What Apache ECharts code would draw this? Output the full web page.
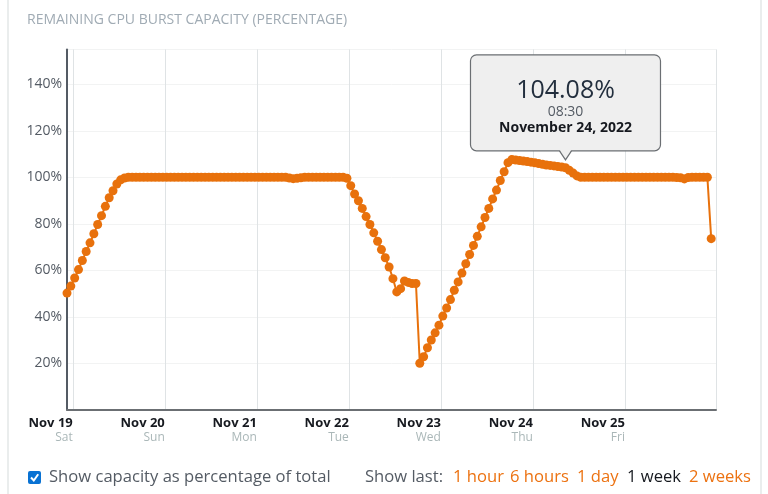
<!DOCTYPE html>
<html><head><meta charset="utf-8">
<script src="https://cdn.jsdelivr.net/npm/echarts@6/dist/echarts.min.js"></script>
<style>html,body{margin:0;padding:0;background:#fff}#c{width:768px;height:494px}</style>
</head><body><div id="c"></div>
<script>
// ---- data ----
const chartTitle = 'REMAINING CPU BURST CAPACITY (PERCENTAGE)';
const firstSample = [2022, 10, 18, 22, 30]; // Nov 18 2022 22:30, hourly samples follow
const axisEnd = [2022, 10, 25, 23, 45];
const capacityValues = [
  50.2, 53.2,
  56.7, 60.3, 64.2, 68.1, 71.8, 75.7, 79.7, 83.5, 87.5, 91.2, 94.2, 97.1, 98.9, 99.7, 100, 100, 100, 100, 100, 100, 100, 100, 100, 100,
  100, 100, 100, 100, 100, 100, 100, 100, 100, 100, 100, 100, 100, 100, 100, 100, 100, 100, 100, 100, 100, 100, 100, 100,
  100, 100, 100, 100, 100, 100, 100, 100, 99.7, 99.4, 99.6, 99.8, 100, 100, 100, 100, 100, 100, 100, 100, 100, 100, 100, 99.6,
  96.4, 92.8, 89.9, 86.6, 83.1, 79.7, 76.1, 72.5, 68.9, 65.4, 61.4, 56.4, 50.7, 52.1, 55.4, 54.8, 54.3, 54.3, 20.0, 22.8, 26.7, 30.0, 33.1, 36.4,
  40.3, 43.8, 47.4, 51.4, 55.0, 58.8, 62.8, 66.8, 70.7, 74.6, 78.7, 82.7, 86.6, 90.7, 94.5, 98.6, 102.4, 106.3, 107.6, 107.4, 107.2, 107.0, 106.8, 106.5,
  106.2, 105.9, 105.6, 105.3, 105.1, 104.9, 104.6, 104.4, 104.08, 103.0, 101.8, 100.6, 100, 100, 100, 100, 100, 100, 100, 100, 100, 100, 100, 100,
  100, 100, 100, 100, 100, 100, 100, 100, 100, 100, 100, 100, 100, 99.9, 99.8, 99.3, 99.9, 100, 100, 100, 100, 100, 73.6
];
const tickDates = ['Nov 19', 'Nov 20', 'Nov 21', 'Nov 22', 'Nov 23', 'Nov 24', 'Nov 25'];
const tickDays = ['Sat', 'Sun', 'Mon', 'Tue', 'Wed', 'Thu', 'Fri'];
const yTicks = [20, 40, 60, 80, 100, 120, 140];
const tipIndex = 130; // Nov 24 08:30
const tipValueText = '104.08%';
const tipTimeText = '08:30';
const tipDateText = 'November 24, 2022';
const checkboxLabel = 'Show capacity as percentage of total';
const showLastLabel = 'Show last:';
const rangeOptions = ['1 hour', '6 hours', '1 day', '1 week', '2 weeks'];
const activeRange = '1 week';

// ---- build ----
const HOUR = 3600 * 1000, DAY = 24 * HOUR;
const t0 = new Date(...firstSample).getTime();
const tEnd = new Date(...axisEnd).getTime();
const day0 = new Date(2022, 10, 19).getTime();
const seriesData = capacityValues.map((v, i) => [t0 + i * HOUR, v]);

const FONT = '"Open Sans", "Noto Sans", sans-serif';
const ORANGE = '#e8710c';

const chart = echarts.init(document.getElementById('c'), null, {renderer: 'canvas'});
chart.setOption({
  animation: false,
  backgroundColor: '#fff',
  grid: {left: 67, right: 52, top: 49.4, bottom: 84.2, containLabel: false},
  xAxis: {
    type: 'time', min: t0, max: tEnd,
    minInterval: DAY, maxInterval: DAY,
    axisLine: {show: true, lineStyle: {color: '#6b6f73', width: 2}},
    axisTick: {show: false},
    splitLine: {show: true, lineStyle: {color: '#dfe3e5', width: 1}},
    axisLabel: {
      showMinLabel: false, showMaxLabel: false, hideOverlap: false,
      align: 'right', margin: 6,
      formatter: function (val) {
        const d = new Date(val);
        if (d.getHours() !== 0 || d.getMinutes() !== 0) return '';
        const k = Math.round((val - day0) / DAY);
        if (k < 0 || k >= tickDates.length) return '';
        return '{a|' + tickDates[k] + '}\n{b|' + tickDays[k] + '}';
      },
      rich: {
        a: {fontFamily: FONT, fontSize: 13, fontWeight: 'bold', color: '#16191f', lineHeight: 15, align: 'right'},
        b: {fontFamily: FONT, fontSize: 12, color: '#aab7b8', lineHeight: 14, align: 'right'}
      }
    }
  },
  yAxis: {
    type: 'value', min: 0, max: 155, interval: 20,
    axisLine: {show: true, lineStyle: {color: '#545b64', width: 2}},
    axisTick: {show: false},
    splitLine: {show: true, lineStyle: {color: '#f2f3f3', width: 1}},
    axisLabel: {
      margin: 5, color: '#545b64', fontFamily: FONT, fontSize: 14,
      formatter: function (v) { return yTicks.indexOf(v) >= 0 ? v + '%' : ''; }
    }
  },
  series: [{
    type: 'line', data: seriesData,
    symbol: 'circle', symbolSize: 9, showAllSymbol: true,
    lineStyle: {color: ORANGE, width: 2},
    itemStyle: {color: ORANGE},
    z: 3
  }]
});

const p = chart.convertToPixel({xAxisIndex: 0, yAxisIndex: 0}, seriesData[tipIndex]);
const cx = p[0], cy = p[1];
const boxW = 190, boxTop = cy - 113, boxBottom = cy - 17, tipY = cy - 8;

const elements = [
  {type: 'line', shape: {x1: 8, y1: 0, x2: 8, y2: 494}, style: {stroke: '#eaeded', lineWidth: 2}, silent: true},
  {type: 'line', shape: {x1: 761, y1: 0, x2: 761, y2: 494}, style: {stroke: '#eaeded', lineWidth: 2}, silent: true},
  {type: 'text', x: 27, y: 20, style: {text: chartTitle, font: '14px ' + FONT, fill: '#a0abb4', textVerticalAlign: 'middle'}},
  // tooltip callout
  {type: 'rect', shape: {x: cx - boxW / 2, y: boxTop, width: boxW, height: boxBottom - boxTop, r: 6},
    style: {fill: '#efefef', stroke: '#6b6f73', lineWidth: 1.2}, z: 100},
  {type: 'polygon', shape: {points: [[cx - 6, boxBottom - 1], [cx + 6, boxBottom - 1], [cx, tipY]]},
    style: {fill: '#efefef'}, z: 101},
  {type: 'polyline', shape: {points: [[cx - 6, boxBottom], [cx, tipY], [cx + 6, boxBottom]]},
    style: {stroke: '#6b6f73', lineWidth: 1.2, fill: null}, z: 102},
  {type: 'text', x: cx, y: cy - 77, z: 103, style: {text: tipValueText, font: '25px ' + FONT, fill: '#232f3e', textAlign: 'center', textVerticalAlign: 'middle'}},
  {type: 'text', x: cx, y: cy - 56, z: 103, style: {text: tipTimeText, font: '14px ' + FONT, fill: '#545b64', textAlign: 'center', textVerticalAlign: 'middle'}},
  {type: 'text', x: cx, y: cy - 40, z: 103, style: {text: tipDateText, font: 'bold 14px ' + FONT, fill: '#16191f', textAlign: 'center', textVerticalAlign: 'middle'}},
  // checkbox
  {type: 'rect', shape: {x: 28, y: 471, width: 13, height: 13, r: 2}, style: {fill: '#0972d3'}},
  {type: 'polyline', shape: {points: [[31, 477.5], [33.8, 480.5], [38.2, 474.2]]}, style: {stroke: '#fff', lineWidth: 2, fill: null}},
  {type: 'text', x: 49, y: 477, style: {text: checkboxLabel, font: '16.6px ' + FONT, fill: '#545b64', textVerticalAlign: 'middle'}},
  {type: 'text', x: 365, y: 477, style: {text: showLastLabel, font: '16.6px ' + FONT, fill: '#545b64', textVerticalAlign: 'middle'}}
];
const rangeX = [453, 510, 577, 627, 689];
rangeOptions.forEach((r, i) => {
  elements.push({type: 'text', x: rangeX[i], y: 477, style: {text: r, font: '16.6px ' + FONT,
    fill: r === activeRange ? '#16191f' : '#ec7211', textVerticalAlign: 'middle'}});
});
chart.setOption({graphic: {elements: elements}});
</script></body></html>
